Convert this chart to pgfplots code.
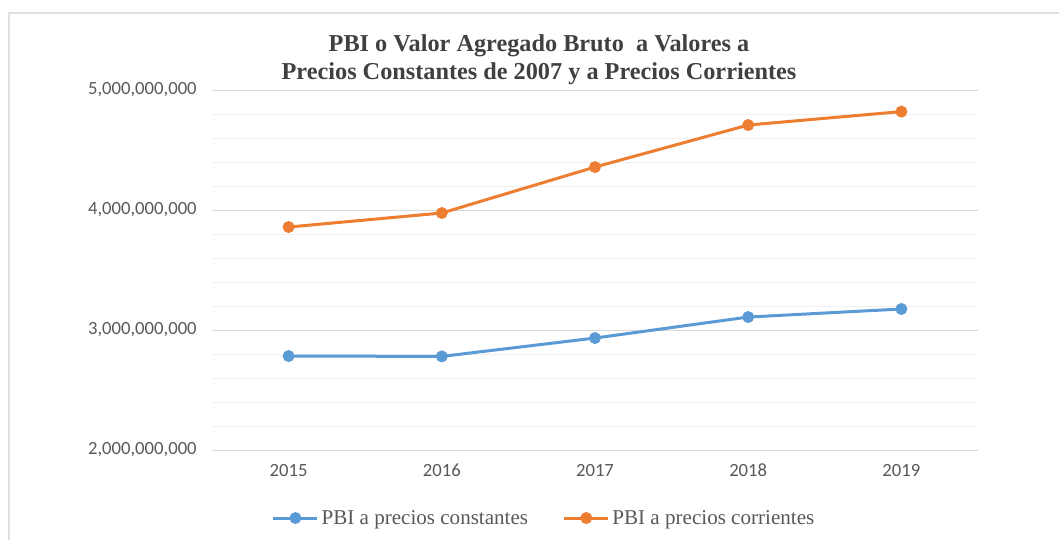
\documentclass[border=0pt]{standalone}
\usepackage{pgfplots}
\pgfplotsset{compat=1.18}
\usepackage{fontspec}
\setmainfont{Liberation Serif}
\newfontfamily\calib{Carlito}
\definecolor{cblue}{HTML}{5B9BD5}
\definecolor{corange}{HTML}{ED7D31}
\definecolor{tickc}{HTML}{595959}
\definecolor{ttl}{HTML}{404040}
\begin{document}
\begin{tikzpicture}
\path[use as bounding box] (0,0) rectangle (794.25pt,405pt);
\draw[color=black!12, line width=1.5pt] (7.1pt,0) -- (7.1pt,395.25pt) -- (794.25pt,395.25pt);
\node[align=center, font=\bfseries\fontsize{18.2}{21}\selectfont, text=ttl] at (404.25pt,360.5pt)
  {PBI o Valor Agregado Bruto\ \ a Valores a\\Precios Constantes de 2007 y a Precios Corrientes};
\begin{axis}[
  at={(159pt,67.5pt)}, anchor=south west,
  scale only axis, width=574.5pt, height=270pt,
  xmin=-0.5, xmax=4.5, ymin=2e9, ymax=5e9,
  xtick={0,1,2,3,4}, xticklabels={2015,2016,2017,2018,2019},
  ytick={2e9,3e9,4e9,5e9},
  yticklabels={{2,000,000,000},{3,000,000,000},{4,000,000,000},{5,000,000,000}},
  minor y tick num=4,
  scaled y ticks=false,
  ymajorgrids, yminorgrids,
  major grid style={draw=black!15, line width=0.75pt},
  minor grid style={draw=black!6, line width=0.75pt},
  axis line style={draw=none},
  major tick length=0pt, minor tick length=0pt,
  tick label style={font=\calib\fontsize{14}{16}\selectfont, text=tickc},
  yticklabel style={xshift=-8pt},
  xticklabel style={yshift=-7pt},
  legend style={at={(0.434,-0.189)}, anchor=center, draw=none, fill=none,
    legend columns=2, font=\fontsize{15.8}{18}\selectfont, text=tickc,
    /tikz/every even column/.append style={column sep=24pt},
    inner sep=0pt},
  legend image code/.code={\draw[mark repeat=2,mark phase=2,#1] plot coordinates {(0cm,0cm) (0.58cm,0cm) (1.16cm,0cm)};},
  clip=false,
]
\addplot[cblue, line width=2.25pt, mark=*, mark size=3.3pt] coordinates {
  (0,2.783e9) (1,2.780e9) (2,2.933e9) (3,3.108e9) (4,3.175e9)};
\addlegendentry{PBI a precios constantes}
\addplot[corange, line width=2.25pt, mark=*, mark size=3.3pt] coordinates {
  (0,3.858e9) (1,3.975e9) (2,4.358e9) (3,4.708e9) (4,4.820e9)};
\addlegendentry{PBI a precios corrientes}
\end{axis}
\end{tikzpicture}
\end{document}
